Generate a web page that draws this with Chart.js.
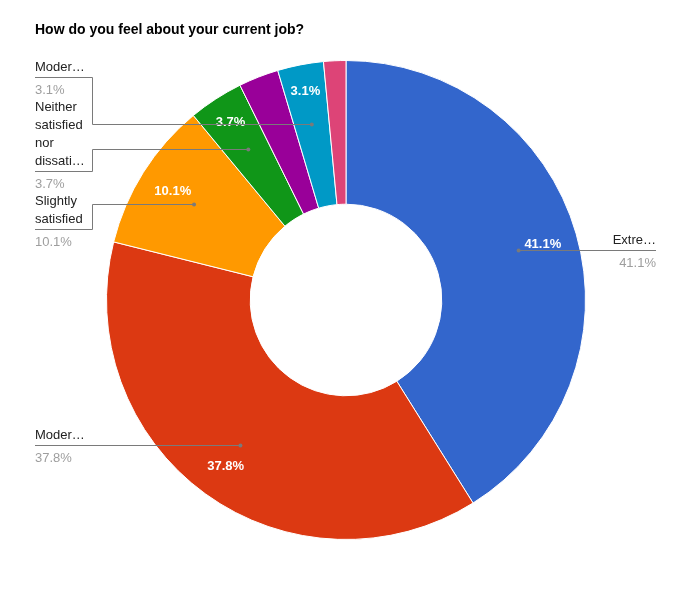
<!DOCTYPE html>
<html>
<head>
<meta charset="utf-8">
<script src="https://cdn.jsdelivr.net/npm/chart.js@4.4.1/dist/chart.umd.min.js"></script>
<style>
body { margin: 0; background: #fff; }
#wrap { position: relative; width: 690px; height: 600px; }
</style>
</head>
<body>
<div id="wrap"><canvas id="jobChart" width="690" height="600"></canvas></div>
<script>
// Datos del gráfico
const title = 'How do you feel about your current job?';
const categories = [
    'Extremely satisfied',
    'Moderately satisfied',
    'Slightly satisfied',
    'Neither satisfied nor dissatisfied',
    'Slightly dissatisfied',
    'Moderately dissatisfied',
    'Extremely dissatisfied'
];
const percentages = [41.1, 37.8, 10.1, 3.7, 2.7, 3.1, 1.5];
const sliceColors = ['#3366cc', '#dc3912', '#ff9900', '#109618', '#990099', '#0099c6', '#dd4477'];
// Texto de las etiquetas tal como se ven (recortadas); null = sin etiqueta
const labelLines = [
    ['Extre…'],
    ['Moder…'],
    ['Slightly', 'satisfied'],
    ['Neither', 'satisfied', 'nor', 'dissati…'],
    null,
    ['Moder…'],
    null
];

const FONT = 'Arial, "Liberation Sans", sans-serif';
const LEFT_X = 35;      // borde izquierdo del texto
const BEND_X = 92;      // codo de las líneas de la izquierda
const RIGHT_X = 656;    // borde derecho del texto de la derecha
const LINE_COLOR = '#7a7a7a';

// Reparte las etiquetas de un lado para que no se solapen
function placeLabels(items) {
    items.sort((a, b) => a.want - b.want);
    const gap = 4;
    const down = 18;
    const up = it => 18 + (it.lines.length - 1) * 18;

    function layout(g) {
        let off = 0;
        const offs = [];
        g.items.forEach((it, k) => {
            if (k > 0) off += down + gap;
            off += up(it);
            offs.push(off);
        });
        const top = offs.reduce((s, o, k) => s + g.items[k].want - o, 0) / offs.length;
        g.items.forEach((it, k) => { it.lineY = Math.round(top + offs[k]); });
        g.top = top;
        g.bottom = top + offs[offs.length - 1] + down;
    }

    const groups = items.map(it => ({ items: [it] }));
    groups.forEach(layout);
    let merged = true;
    while (merged) {
        merged = false;
        for (let k = 1; k < groups.length; k++) {
            if (groups[k - 1].bottom + gap > groups[k].top) {
                groups[k - 1].items = groups[k - 1].items.concat(groups[k].items);
                groups.splice(k, 1);
                layout(groups[k - 1]);
                merged = true;
                break;
            }
        }
    }
}

// Plugin: título, porcentajes en los sectores y etiquetas con líneas guía
const labelsPlugin = {
    id: 'googleLabels',
    afterDatasetsDraw(chart) {
        const ctx = chart.ctx;
        const arcs = chart.getDatasetMeta(0).data;
        const left = [];
        const right = [];

        arcs.forEach((arc, i) => {
            const p = arc.getProps(['x', 'y', 'startAngle', 'endAngle', 'outerRadius'], true);
            const mid = (p.startAngle + p.endAngle) / 2;
            const frac = percentages[i] / 100;

            if (percentages[i] >= 3) {
                const r = p.outerRadius * (0.855 + 0.05 * (1 - Math.min(1, frac / 0.1)));
                ctx.save();
                ctx.fillStyle = '#ffffff';
                ctx.font = 'bold 13px ' + FONT;
                ctx.textAlign = 'center';
                ctx.textBaseline = 'middle';
                ctx.fillText(percentages[i].toFixed(1) + '%', p.x + Math.cos(mid) * r, p.y + Math.sin(mid) * r + 1);
                ctx.restore();
            }

            if (!labelLines[i]) return;
            const dot = {
                x: p.x + Math.cos(mid) * p.outerRadius * 0.75,
                y: p.y + Math.sin(mid) * p.outerRadius * 0.75
            };
            const item = { i, dot, lines: labelLines[i], want: dot.y };
            (Math.cos(mid) < 0 ? left : right).push(item);
        });

        placeLabels(left);
        placeLabels(right);

        ctx.save();
        ctx.strokeStyle = LINE_COLOR;
        ctx.lineWidth = 1;

        const drawItem = (it, isLeft) => {
            const ly = it.lineY + 0.5;
            const dy = Math.round(it.dot.y) + 0.5;
            const endX = isLeft ? LEFT_X : RIGHT_X;
            ctx.beginPath();
            ctx.moveTo(it.dot.x, dy);
            if (Math.abs(it.lineY - it.dot.y) > 1) {
                const bx = isLeft ? BEND_X + 0.5 : RIGHT_X - 57.5;
                ctx.lineTo(bx, dy);
                ctx.lineTo(bx, ly);
                ctx.lineTo(endX, ly);
            } else {
                ctx.lineTo(endX, dy);
            }
            ctx.stroke();

            ctx.fillStyle = LINE_COLOR;
            ctx.beginPath();
            ctx.arc(it.dot.x, dy, 2, 0, Math.PI * 2);
            ctx.fill();

            ctx.font = '13px ' + FONT;
            ctx.textBaseline = 'middle';
            ctx.textAlign = isLeft ? 'left' : 'right';
            ctx.fillStyle = '#222222';
            const n = it.lines.length;
            it.lines.forEach((txt, j) => {
                ctx.fillText(txt, endX, it.lineY - 10 - (n - 1 - j) * 18);
            });
            ctx.fillStyle = '#9e9e9e';
            ctx.fillText(percentages[it.i].toFixed(1) + '%', endX, it.lineY + 13);
        };
        left.forEach(it => drawItem(it, true));
        right.forEach(it => drawItem(it, false));

        // Título
        ctx.font = 'bold 14px ' + FONT;
        ctx.fillStyle = '#000000';
        ctx.textAlign = 'left';
        ctx.textBaseline = 'middle';
        ctx.fillText(title, LEFT_X, 30);
        ctx.restore();
    }
};

new Chart(document.getElementById('jobChart'), {
    type: 'doughnut',
    data: {
        labels: categories,
        datasets: [{
            data: percentages,
            backgroundColor: sliceColors,
            borderColor: '#ffffff',
            borderWidth: 1
        }]
    },
    options: {
        responsive: false,
        animation: false,
        events: [],
        cutout: '40%',
        layout: { padding: { top: 60, bottom: 60, left: 106, right: 104 } },
        plugins: {
            legend: { display: false },
            tooltip: { enabled: false }
        }
    },
    plugins: [labelsPlugin]
});
</script>
</body>
</html>
